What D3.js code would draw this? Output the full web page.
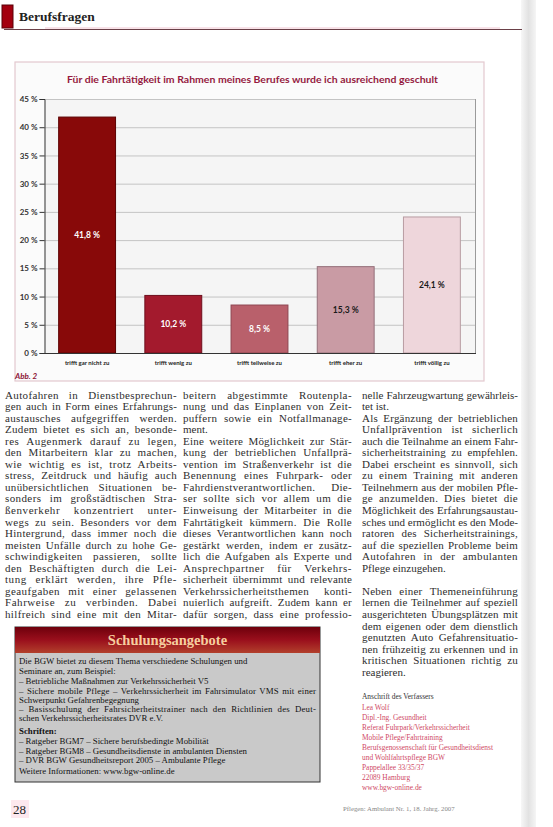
<!DOCTYPE html>
<html><head><meta charset="utf-8">
<script src="https://cdn.jsdelivr.net/npm/d3@7"></script>
<style>
html,body{margin:0;padding:0;background:#fff;}
svg{display:block;}
</style></head>
<body>
<svg id="page" width="553" height="827"></svg>
<script>
// ---------- chart data ----------
const chartTitle = "Für die Fahrtätigkeit im Rahmen meines Berufes wurde ich ausreichend geschult";
const categories = ["trifft gar nicht zu", "trifft wenig zu", "trifft teilweise zu", "trifft eher zu", "trifft völlig zu"];
const values = [41.8, 10.2, 8.5, 15.3, 24.1];
const valueLabels = ["41,8 %", "10,2 %", "8,5 %", "15,3 %", "24,1 %"];
const yTicks = [0, 5, 10, 15, 20, 25, 30, 35, 40, 45];
const barFills = ["#880909", "#a31a2d", "#b9606b", "#c99ba4", "#eed6db"];
const barStrokes = ["#5c0303", "#6e0f1d", "#8e4651", "#94707a", "#b89ca2"];
const labelColors = ["#ffffff", "#ffffff", "#ffffff", "#1a1a1a", "#1a1a1a"];

// ---------- page text ----------
const col1Lines = [
 ["Autofahren in Dienstbesprechun-",0],["gen auch in Form eines Erfahrungs-",0],["austausches aufgegriffen werden.",0],
 ["Zudem bietet es sich an, besonde-",0],["res Augenmerk darauf zu legen,",0],["den Mitarbeitern klar zu machen,",0],
 ["wie wichtig es ist, trotz Arbeits-",0],["stress, Zeitdruck und häufig auch",0],["unübersichtlichen Situationen be-",0],
 ["sonders im großstädtischen Stra-",0],["ßenverkehr konzentriert unter-",0],["wegs zu sein. Besonders vor dem",0],
 ["Hintergrund, dass immer noch die",0],["meisten Unfälle durch zu hohe Ge-",0],["schwindigkeiten passieren, sollte",0],
 ["den Beschäftigten durch die Lei-",0],["tung erklärt werden, ihre Pfle-",0],["geaufgaben mit einer gelassenen",0],
 ["Fahrweise zu verbinden. Dabei",0],["hilfreich sind eine mit den Mitar-",0]
];
const col2Lines = [
 ["beitern abgestimmte Routenpla-",0],["nung und das Einplanen von Zeit-",0],["puffern sowie ein Notfallmanage-",0],
 ["ment.",1],["Eine weitere Möglichkeit zur Stär-",0],["kung der betrieblichen Unfallprä-",0],
 ["vention im Straßenverkehr ist die",0],["Benennung eines Fuhrpark- oder",0],["Fahrdienstverantwortlichen. Die-",0],
 ["ser sollte sich vor allem um die",0],["Einweisung der Mitarbeiter in die",0],["Fahrtätigkeit kümmern. Die Rolle",0],
 ["dieses Verantwortlichen kann noch",0],["gestärkt werden, indem er zusätz-",0],["lich die Aufgaben als Experte und",0],
 ["Ansprechpartner für Verkehrs-",0],["sicherheit übernimmt und relevante",0],["Verkehrssicherheitsthemen konti-",0],
 ["nuierlich aufgreift. Zudem kann er",0],["dafür sorgen, dass eine professio-",0]
];
const col3Lines = [
 ["nelle Fahrzeugwartung gewährleis-",0],["tet ist.",1],["Als Ergänzung der betrieblichen",0],
 ["Unfallprävention ist sicherlich",0],["auch die Teilnahme an einem Fahr-",0],["sicherheitstraining zu empfehlen.",0],
 ["Dabei erscheint es sinnvoll, sich",0],["zu einem Training mit anderen",0],["Teilnehmern aus der mobilen Pfle-",0],
 ["ge anzumelden. Dies bietet die",0],["Möglichkeit des Erfahrungsaustau-",0],["sches und ermöglicht es den Mode-",0],
 ["ratoren des Sicherheitstrainings,",0],["auf die speziellen Probleme beim",0],["Autofahren in der ambulanten",0],
 ["Pflege einzugehen.",1],["",1],["Neben einer Themeneinführung",0],
 ["lernen die Teilnehmer auf speziell",0],["ausgerichteten Übungsplätzen mit",0],["dem eigenen oder dem dienstlich",0],
 ["genutzten Auto Gefahrensituatio-",0],["nen frühzeitig zu erkennen und in",0],["kritischen Situationen richtig zu",0],
 ["reagieren.",1]
];
const boxTitle = "Schulungsangebote";
const boxLines = [
 ["Die BGW bietet zu diesem Thema verschiedene Schulungen und", 0, 0],
 ["Seminare an, zum Beispiel:", 0, 0],
 ["– Betriebliche Maßnahmen zur Verkehrssicherheit V5", 0, 0],
 ["– Sichere mobile Pflege – Verkehrssicherheit im Fahrsimulator VMS mit einer", 0, 1],
 ["   Schwerpunkt Gefahrenbegegnung", 0, 0],
 ["– Basisschulung der Fahrsicherheitstrainer nach den Richtlinien des Deut-", 0, 1],
 ["   schen Verkehrssicherheitsrates DVR e.V.", 0, 0],
 ["Schriften:", 1, 0],
 ["– Ratgeber BGM7 – Sichere berufsbedingte Mobilität", 0, 0],
 ["– Ratgeber BGM8 – Gesundheitsdienste in ambulanten Diensten", 0, 0],
 ["– DVR BGW Gesundheitsreport 2005 – Ambulante Pflege", 0, 0],
 ["Weitere Informationen: www.bgw-online.de", 0, 0]
];
const addressHead = "Anschrift des Verfassers";
const addressLines = ["Lea Wolf", "Dipl.-Ing. Gesundheit", "Referat Fuhrpark/Verkehrssicherheit", "Mobile Pflege/Fahrtraining",
  "Berufsgenossenschaft für Gesundheitsdienst", "und Wohlfahrtspflege BGW", "Pappelallee 33/35/37", "22089 Hamburg", "www.bgw-online.de"];
const sectionTitle = "Berufsfragen";
const figLabel = "Abb. 2";
const pageNumber = "28";
const footerText = "Pflegen: Ambulant Nr. 1, 18. Jahrg. 2007";

// ---------- drawing ----------
const svg = d3.select("#page");
const defs = svg.append("defs");
const grad = defs.append("linearGradient").attr("id","edge").attr("x1",0).attr("x2",1);
grad.append("stop").attr("offset",0).attr("stop-color","#f7f7f7");
grad.append("stop").attr("offset",0.5).attr("stop-color","#e2e2e2");
grad.append("stop").attr("offset",1).attr("stop-color","#f5f5f5");
const hgrad = defs.append("linearGradient").attr("id","boxhead").attr("x1",0).attr("x2",0).attr("y1",0).attr("y2",1);
hgrad.append("stop").attr("offset",0).attr("stop-color","#6e000c");
hgrad.append("stop").attr("offset",0.5).attr("stop-color","#9a0f1c");
hgrad.append("stop").attr("offset",1).attr("stop-color","#b2402c");

svg.append("rect").attr("width",553).attr("height",827).attr("fill","#fff");
// page edge stripe
svg.append("rect").attr("x",521).attr("y",0).attr("width",15).attr("height",827).attr("fill","url(#edge)");

// header
svg.append("rect").attr("x",2).attr("y",5).attr("width",11).attr("height",23).attr("fill","#a3000f").attr("stroke","#5a0008").attr("stroke-width",1);
svg.append("text").attr("x",19).attr("y",21).text(sectionTitle)
  .attr("font-family","Liberation Serif, serif").attr("font-weight","bold").attr("font-size",13.5).attr("fill","#222");
svg.append("line").attr("x1",4).attr("x2",522).attr("y1",29.5).attr("y2",29.5).attr("stroke","#6a4048").attr("stroke-width",1.2);
svg.append("line").attr("x1",45).attr("x2",500).attr("y1",28).attr("y2",28).attr("stroke","#f2c6d2").attr("stroke-width",1.2);

// chart frame
svg.append("rect").attr("x",15).attr("y",62).attr("width",469).attr("height",319)
  .attr("fill","#fbfbfb").attr("stroke","#e3c9cf").attr("stroke-width",1.2);
svg.append("text").attr("x",67).attr("y",83).text(chartTitle)
  .attr("font-family","Lato, sans-serif").attr("font-weight","bold").attr("font-size",10.2)
  .attr("fill","#951a40").attr("textLength",371).attr("lengthAdjust","spacingAndGlyphs");

const x = d3.scaleBand().domain(categories).range([44, 475]).paddingInner(0.34).paddingOuter(0.17);
const y = d3.scaleLinear().domain([0, 45]).range([353, 99]);

const plot = svg.append("g");
plot.append("rect").attr("x",44).attr("y",y(45)).attr("width",431).attr("height",y(0)-y(45)).attr("fill","#f5f5f5");
plot.selectAll("line.grid").data(yTicks).join("line").attr("class","grid")
  .attr("x1",44).attr("x2",475).attr("y1",d=>y(d)+0.5).attr("y2",d=>y(d)+0.5)
  .attr("stroke","#c4c4c4").attr("stroke-width",1);
plot.append("line").attr("x1",475.5).attr("x2",475.5).attr("y1",y(45)).attr("y2",y(0)).attr("stroke","#9a9a9a");

const yAxis = d3.axisLeft(y).tickValues(yTicks).tickSize(5).tickPadding(2).tickFormat(d => d + " %");
const ag = svg.append("g").attr("transform","translate(44.5,0)").call(yAxis);
ag.select(".domain").attr("stroke","#333");
ag.selectAll(".tick line").attr("stroke","#333");
ag.selectAll(".tick text").attr("font-family","Lato, sans-serif").attr("font-size",8).attr("font-weight","bold").attr("fill","#333");

plot.selectAll("rect.bar").data(values).join("rect").attr("class","bar")
  .attr("x",(d,i)=>x(categories[i])).attr("width",x.bandwidth())
  .attr("y",d=>y(d)).attr("height",d=>y(0)-y(d))
  .attr("fill",(d,i)=>barFills[i]).attr("stroke",(d,i)=>barStrokes[i]).attr("stroke-width",1);

svg.append("line").attr("x1",44).attr("x2",476).attr("y1",y(0)+0.5).attr("y2",y(0)+0.5).attr("stroke","#333").attr("stroke-width",1);

plot.selectAll("text.vl").data(values).join("text").attr("class","vl")
  .attr("x",(d,i)=>x(categories[i])+x.bandwidth()/2)
  .attr("y",d=>(y(d)+y(0))/2+3)
  .attr("text-anchor","middle").text((d,i)=>valueLabels[i])
  .attr("font-family","Lato, sans-serif").attr("font-weight","bold").attr("font-size",8.5)
  .attr("fill",(d,i)=>labelColors[i]);

svg.selectAll("text.xl").data(categories).join("text").attr("class","xl")
  .attr("x",d=>x(d)+x.bandwidth()/2).attr("y",365).attr("text-anchor","middle").text(d=>d)
  .attr("font-family","Lato, sans-serif").attr("font-weight","bold").attr("font-size",6).attr("fill","#222");

svg.append("text").attr("x",15).attr("y",379).text(figLabel)
  .attr("font-family","Lato, sans-serif").attr("font-style","italic").attr("font-weight","bold").attr("font-size",8).attr("fill","#8e1638");

// justified text line helper: spread extra room over letters and word gaps
function justify(t, str, w){
  const n = t.node();
  const nat = n.getComputedTextLength();
  const chars = str.length;
  const spaces = (str.trim().match(/ +/g) || []).length;
  if (nat > w) { t.attr("textLength", w).attr("lengthAdjust","spacingAndGlyphs"); return; }
  const extra = w - nat;
  let ls = spaces > 0 ? Math.min(extra * 0.45 / chars, 0.6) : extra / chars;
  t.attr("letter-spacing", ls.toFixed(3));
  const nat2 = n.getComputedTextLength();
  if (spaces > 0 && nat2 < w) t.attr("word-spacing", ((w - nat2) / spaces).toFixed(2));
}

// body columns
function drawColumn(lines, x0, w, y0, lh){
  const g = svg.append("g");
  lines.forEach((l,i)=>{
    if(!l[0]) return;
    const t = g.append("text").attr("x",x0).attr("y",y0+i*lh).text(l[0])
      .attr("font-family","Liberation Serif, serif").attr("font-size",11).attr("fill","#2e2e2e");
    if(!l[1]) justify(t, l[0], w);
  });
}
drawColumn(col1Lines, 5, 172, 398.5, 11.55);
drawColumn(col2Lines, 183, 169, 398.5, 11.55);
drawColumn(col3Lines, 362, 156, 398.5, 11.55);

// info box
const bx = 15, by = 627, bw = 305, bh = 155;
svg.append("rect").attr("x",bx).attr("y",by).attr("width",bw).attr("height",bh).attr("fill","#c9c9c9").attr("stroke","#333").attr("stroke-width",1);
svg.append("rect").attr("x",bx).attr("y",by).attr("width",bw).attr("height",26).attr("fill","url(#boxhead)");
svg.append("text").attr("x",bx+bw/2).attr("y",by+18).attr("text-anchor","middle").text(boxTitle)
  .attr("font-family","Liberation Serif, serif").attr("font-weight","bold").attr("font-size",14.5).attr("fill","#f6cf9f");
const boxYs = [661,670.5,681,690.5,699.5,709,718,731,741,750.5,760,771];
boxLines.forEach((l,i)=>{
  const t = svg.append("text").attr("x",bx+4).attr("y",boxYs[i]+3).text(l[0])
    .attr("font-family","Liberation Serif, serif").attr("font-size",8.8).attr("fill","#111")
    .attr("font-weight", l[1] ? "bold" : "normal");
  if(l[2]) justify(t, l[0], bw-8);
});

// address
svg.append("text").attr("x",362).attr("y",699).text(addressHead)
  .attr("font-family","Liberation Serif, serif").attr("font-size",7.4).attr("fill","#333");
addressLines.forEach((s,i)=>{
  svg.append("text").attr("x",362).attr("y",710+i*10).text(s)
    .attr("font-family","Liberation Serif, serif").attr("font-size",7.4).attr("fill","#cf4a66");
});

// footer
svg.append("rect").attr("x",11).attr("y",800).attr("width",18).attr("height",18).attr("fill","#fde8ee");
svg.append("text").attr("x",13).attr("y",814).text(pageNumber)
  .attr("font-family","Liberation Serif, serif").attr("font-size",13).attr("fill","#222");
svg.append("text").attr("x",343).attr("y",811).text(footerText)
  .attr("font-family","Liberation Serif, serif").attr("font-size",6.8).attr("fill","#888");
</script>
</body></html>
